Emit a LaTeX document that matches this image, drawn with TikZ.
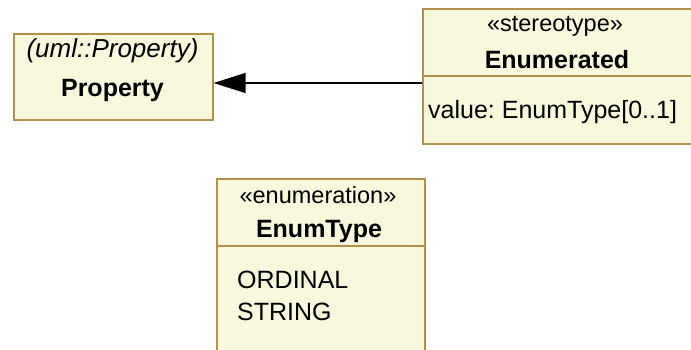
\documentclass[tikz,border=0pt]{standalone}
\usepackage{fontspec}
\setmainfont{Liberation Sans}
\usetikzlibrary{arrows.meta}
\definecolor{boxfill}{RGB}{248,248,220}
\definecolor{boxline}{RGB}{180,145,75}
\frenchspacing
\begin{document}
\begin{tikzpicture}[x=1pt,y=-1pt,
  umlbox/.style={draw=boxline, fill=boxfill, line width=1.6pt, inner sep=0pt, anchor=north west},
  divider/.style={draw=boxline, line width=1.6pt},
  txt/.style={inner sep=0pt, anchor=base, font=\fontsize{25}{30}\selectfont},
  sttxt/.style={inner sep=0pt, anchor=base, font=\fontsize{23.5}{28}\selectfont},
  ittxt/.style={inner sep=0pt, anchor=base, font=\fontsize{26}{31}\selectfont\itshape},
  lefttxt/.style={txt, anchor=base west},
  gen/.style={draw=black, line width=1.4pt, -{Triangle[length=32pt,width=20pt]}}]
\useasboundingbox (0,0) rectangle (691,349);
% boxes
\node[umlbox, minimum width=199pt, minimum height=86pt] (prop) at (13,33) {};
\node[umlbox, minimum width=272pt, minimum height=135pt] (enum) at (422,8) {};
\node[umlbox, minimum width=208pt, minimum height=172pt] (etype) at (216,178) {};
\draw[divider] (422,76) -- (694,76);
\draw[divider] (216,246) -- (424,246);
% texts
\node[ittxt] (propst) at (112.5,57) {(uml::Property)};
\node[txt] (propn) at (112.5,96) {\bfseries Property};
\node[sttxt] (enumst) at (555,31) {«stereotype»};
\node[txt] (enumn) at (557,68) {\bfseries Enumerated};
\node[lefttxt] (enuma) at (428,118) {value: EnumType[0..1]};
\node[sttxt] (etst) at (318,203) {«enumeration»};
\node[txt] (etn) at (319,237) {\bfseries EnumType};
\node[lefttxt] (et1) at (237,288) {ORDINAL};
\node[lefttxt] (et2) at (237,320) {STRING};
% connector
\coordinate (ay) at (0,83);
\draw[gen] (enum.west |- ay) -- (prop.east |- ay);
\end{tikzpicture}
\end{document}
